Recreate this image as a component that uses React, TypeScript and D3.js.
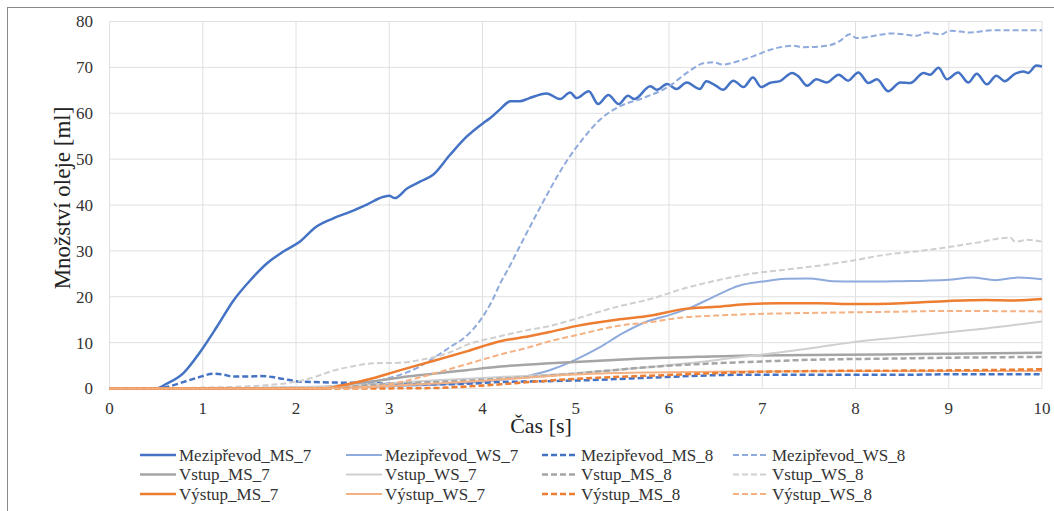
import React from "react";
import * as d3 from "d3";

type Pt = [number, number];

// ---- data (time [s], volume [ml]) ----
const mezMS7: Pt[] = [
  [0, 0], [0.5, 0], [0.61, 1.0], [0.79, 3.3], [0.97, 7.9], [1.15, 13.4], [1.33, 19.2], [1.51, 23.6],
  [1.69, 27.3], [1.86, 29.8], [2.04, 32.0], [2.22, 35.3], [2.4, 37.1], [2.58, 38.5], [2.76, 40.1],
  [2.94, 41.8], [3.0, 42.0], [3.06, 41.5], [3.19, 43.6], [3.33, 45.1], [3.47, 46.6], [3.65, 50.9],
  [3.83, 54.9], [4.01, 57.9], [4.08, 58.9], [4.19, 60.9], [4.3, 62.6], [4.4, 62.6], [4.49, 63.2],
  [4.69, 64.3], [4.83, 63.1], [4.94, 64.5], [5.01, 63.3], [5.14, 64.8], [5.24, 62.0], [5.35, 64.0],
  [5.46, 62.0], [5.56, 63.8], [5.63, 63.1], [5.8, 65.9], [5.87, 65.1], [5.98, 66.4], [6.08, 65.3],
  [6.19, 66.7], [6.33, 65.3], [6.4, 67.0], [6.51, 65.9], [6.58, 65.1], [6.69, 67.1], [6.8, 65.7],
  [6.9, 67.8], [6.99, 65.7], [7.08, 66.6], [7.19, 67.0], [7.32, 68.8], [7.39, 68.0], [7.48, 66.0],
  [7.58, 67.4], [7.69, 66.7], [7.82, 68.4], [7.92, 67.1], [8.03, 68.9], [8.14, 66.6], [8.23, 67.4],
  [8.35, 64.8], [8.48, 66.7], [8.59, 66.6], [8.73, 68.8], [8.8, 68.4], [8.89, 69.9], [8.98, 67.4],
  [9.1, 68.9], [9.21, 66.7], [9.3, 68.6], [9.41, 66.3], [9.51, 68.2], [9.6, 67.0], [9.71, 68.6],
  [9.8, 69.1], [9.85, 68.8], [9.94, 70.4], [10, 70.2],
];
const mezWS7: Pt[] = [
  [0, 0], [2.5, 0.2], [3.0, 0.5], [3.5, 0.8], [4.0, 1.5], [4.5, 2.8], [4.75, 4.2], [5.0, 6.3],
  [5.25, 8.9], [5.5, 12.0], [5.75, 14.5], [6.0, 16.0], [6.25, 17.8], [6.5, 20.2], [6.75, 22.4],
  [7.0, 23.3], [7.25, 23.9], [7.5, 24.0], [7.75, 23.4], [8.0, 23.3], [8.25, 23.3], [8.5, 23.4],
  [8.75, 23.5], [9.0, 23.7], [9.25, 24.2], [9.5, 23.6], [9.75, 24.2], [10, 23.8],
];
const mezMS8: Pt[] = [
  [0, 0], [0.5, 0], [0.61, 0.3], [0.79, 1.4], [0.95, 2.4], [1.11, 3.2], [1.2, 3.1], [1.33, 2.6],
  [1.5, 2.6], [1.61, 2.7], [1.75, 2.5], [1.86, 2.1], [2.04, 1.5], [2.2, 1.4], [2.4, 1.3], [2.76, 1.2],
  [3.12, 1.0], [3.47, 0.9], [3.8, 1.0], [4.19, 1.4], [4.7, 1.6], [5.26, 1.9], [5.6, 2.2], [5.97, 2.5],
  [6.33, 2.8], [6.8, 3.0], [7.4, 3.0], [8.0, 3.0], [8.58, 3.0], [9.0, 3.1], [9.5, 3.1], [10, 3.1],
];
const mezWS8: Pt[] = [
  [0, 0], [2.3, 0.3], [2.76, 1.2], [3.0, 2.3], [3.3, 4.5], [3.5, 7.0], [3.65, 9.0], [3.83, 11.5],
  [3.97, 14.7], [4.1, 19.0], [4.19, 22.9], [4.3, 27.0], [4.4, 31.0], [4.58, 38.0], [4.72, 43.3],
  [4.9, 49.5], [5.08, 54.5], [5.26, 58.6], [5.47, 61.5], [5.72, 63.3], [6.01, 66.0], [6.19, 68.8],
  [6.37, 70.9], [6.48, 71.1], [6.58, 70.6], [6.73, 71.3], [6.9, 72.4], [7.08, 73.8], [7.33, 74.7],
  [7.44, 74.4], [7.69, 74.7], [7.83, 75.7], [7.94, 77.2], [8.01, 76.4], [8.4, 77.4], [8.66, 76.9],
  [8.76, 77.6], [8.92, 77.2], [9.01, 78.0], [9.23, 77.6], [9.48, 78.1], [10, 78.1],
];
const vstMS7: Pt[] = [
  [0, 0], [2.0, 0], [2.3, 0.3], [2.76, 1.4], [3.12, 2.4], [3.47, 3.2], [3.83, 4.0], [4.19, 4.8],
  [4.72, 5.5], [5.3, 6.1], [5.8, 6.6], [6.3, 6.9], [6.87, 7.2], [7.5, 7.3], [8.3, 7.4], [9.0, 7.6],
  [10, 7.8],
];
const vstWS7: Pt[] = [
  [0, 0], [1.0, 0], [2.0, 0.3], [2.5, 0.6], [3.12, 1.3], [3.5, 1.8], [4.0, 2.3], [4.5, 2.8],
  [4.91, 3.2], [5.4, 4.0], [5.81, 4.7], [6.2, 5.5], [6.7, 6.7], [7.2, 7.9], [7.6, 9.0], [7.94, 10.0],
  [8.5, 11.2], [9.02, 12.3], [9.4, 13.1], [10, 14.6],
];
const vstMS8: Pt[] = [
  [0, 0], [2.3, 0], [2.76, 0.7], [3.12, 1.1], [3.47, 1.4], [4.19, 2.1], [4.72, 2.8], [5.3, 3.8],
  [5.8, 4.7], [6.3, 5.3], [6.87, 5.8], [7.6, 6.3], [8.3, 6.5], [9.0, 6.7], [10, 6.9],
];
const vstWS8: Pt[] = [
  [0, 0], [0.5, 0], [1.0, 0.2], [1.5, 0.5], [2.0, 1.5], [2.2, 2.5], [2.4, 3.9], [2.6, 4.8],
  [2.83, 5.5], [3.12, 5.6], [3.3, 6.1], [3.65, 7.9], [3.83, 9.5], [4.19, 11.4], [4.5, 12.8],
  [4.72, 13.6], [5.0, 15.2], [5.44, 17.8], [5.8, 19.5], [6.16, 21.8], [6.5, 23.5], [6.87, 25.0],
  [7.2, 25.8], [7.58, 26.7], [8.0, 28.0], [8.3, 29.1], [8.7, 30.0], [9.02, 30.9], [9.3, 31.8],
  [9.66, 32.9], [9.71, 32.0], [9.85, 32.4], [10, 32.0],
];
const vysMS7: Pt[] = [
  [0, 0], [2.3, 0], [2.4, 0.3], [2.76, 1.9], [3.12, 4.0], [3.47, 6.0], [3.83, 8.1], [4.19, 10.3],
  [4.5, 11.4], [4.72, 12.3], [5.0, 13.6], [5.44, 15.0], [5.81, 15.9], [6.15, 17.3], [6.5, 17.8],
  [6.87, 18.4], [7.2, 18.6], [7.6, 18.6], [8.0, 18.4], [8.5, 18.6], [9.0, 19.1], [9.4, 19.3],
  [9.7, 19.2], [10, 19.5],
];
const vysWS7: Pt[] = [
  [0, 0], [1.5, 0], [2.5, 0.2], [3.12, 0.7], [3.6, 1.2], [4.01, 1.7], [4.5, 2.4], [4.91, 3.0],
  [5.3, 3.3], [5.81, 3.5], [6.7, 3.7], [8.0, 3.8], [10, 3.8],
];
const vysMS8: Pt[] = [
  [0, 0], [2.6, 0], [3.47, 0.1], [3.8, 0.4], [4.19, 0.9], [4.5, 1.4], [4.91, 2.0], [5.3, 2.4],
  [5.81, 2.8], [6.3, 3.2], [6.7, 3.5], [7.5, 3.8], [8.5, 3.9], [9.3, 4.0], [10, 4.2],
];
const vysWS8: Pt[] = [
  [0, 0], [2.6, 0], [3.12, 1.4], [3.47, 3.2], [3.83, 5.3], [4.19, 7.4], [4.5, 9.0], [4.72, 10.3],
  [5.0, 11.6], [5.44, 13.6], [5.81, 14.5], [6.15, 15.5], [6.5, 15.9], [6.87, 16.2], [7.6, 16.5],
  [8.3, 16.7], [9.0, 16.9], [10, 16.8],
];

const seriesNames = [
  "Mezipřevod_MS_7", "Mezipřevod_WS_7", "Mezipřevod_MS_8", "Mezipřevod_WS_8",
  "Vstup_MS_7", "Vstup_WS_7", "Vstup_MS_8", "Vstup_WS_8",
  "Výstup_MS_7", "Výstup_WS_7", "Výstup_MS_8", "Výstup_WS_8",
];
const seriesData: Pt[][] = [
  mezMS7, mezWS7, mezMS8, mezWS8, vstMS7, vstWS7, vstMS8, vstWS8, vysMS7, vysWS7, vysMS8, vysWS8,
];
const xTicks = [0, 1, 2, 3, 4, 5, 6, 7, 8, 9, 10];
const yTicks = [0, 10, 20, 30, 40, 50, 60, 70, 80];
const xTitle = "Čas [s]";
const yTitle = "Množství oleje [ml]";

// ---- styles ----
const styles = [
  { c: "#4472C4", w: 2.5, d: "" },
  { c: "#8FAADC", w: 2, d: "" },
  { c: "#4472C4", w: 2.5, d: "6,3" },
  { c: "#8FAADC", w: 2, d: "6,3" },
  { c: "#A5A5A5", w: 2.5, d: "" },
  { c: "#CFCFCF", w: 2, d: "" },
  { c: "#A5A5A5", w: 2.5, d: "6,3" },
  { c: "#CFCFCF", w: 2, d: "6,3" },
  { c: "#ED7D31", w: 2.5, d: "" },
  { c: "#F4B183", w: 2, d: "" },
  { c: "#ED7D31", w: 2.5, d: "6,3" },
  { c: "#F4B183", w: 2, d: "6,3" },
];

const FONT = "Liberation Serif";

export default function App() {
  const W = 1054, H = 511;
  const x = d3.scaleLinear().domain([0, 10]).range([109.5, 1042]);
  const y = d3.scaleLinear().domain([0, 80]).range([388.5, 21.5]);
  const line = d3.line<Pt>().x((d) => x(d[0])).y((d) => y(d[1])).curve(d3.curveMonotoneX);

  const legCols = [140, 346, 542, 733];
  const legRows = [455, 474.5, 494];

  return (
    <svg width={W} height={H} style={{ position: "absolute", left: 0, top: 0, background: "#fff" }}>
      <rect x={0} y={0} width={W} height={H} fill="#fff" />
      <line x1={7} y1={7.5} x2={W} y2={7.5} stroke="#8a8a8a" strokeWidth={1} />
      <line x1={7.5} y1={7} x2={7.5} y2={H} stroke="#8a8a8a" strokeWidth={1} />
      {yTicks.map((v) => (
        <line key={"gy" + v} x1={x(0)} x2={x(10)} y1={y(v)} y2={y(v)} stroke="#E0E0E0" strokeWidth={1} />
      ))}
      {xTicks.map((t) => (
        <line key={"gx" + t} x1={x(t)} x2={x(t)} y1={y(0)} y2={y(80)} stroke="#E0E0E0" strokeWidth={1} />
      ))}
      {yTicks.map((v) => (
        <text key={"ty" + v} x={93} y={y(v)} dy="0.35em" textAnchor="end" fontFamily={FONT} fontSize={17} fill="#333">
          {v}
        </text>
      ))}
      {xTicks.map((t) => (
        <text key={"tx" + t} x={x(t)} y={408} dy="0.35em" textAnchor="middle" fontFamily={FONT} fontSize={17} fill="#333">
          {t}
        </text>
      ))}
      <text x={541} y={433} textAnchor="middle" fontFamily={FONT} fontSize={22} fill="#222">
        {xTitle}
      </text>
      <text transform={`translate(70,198) rotate(-90)`} textAnchor="middle" fontFamily={FONT} fontSize={23} fill="#222">
        {yTitle}
      </text>
      {seriesData.map((d, i) => (
        <path key={"s" + i} d={line(d) || ""} fill="none" stroke={styles[i].c} strokeWidth={styles[i].w}
          strokeDasharray={styles[i].d} strokeLinejoin="round" />
      ))}
      {seriesNames.map((n, i) => {
        const cx = legCols[i % 4];
        const cy = legRows[Math.floor(i / 4)];
        return (
          <g key={"l" + i}>
            <line x1={cx} x2={cx + 36} y1={cy} y2={cy} stroke={styles[i].c} strokeWidth={styles[i].w}
              strokeDasharray={styles[i].d} />
            <text x={cx + 39} y={cy} dy="0.33em" fontFamily={FONT} fontSize={17} fill="#333">
              {n}
            </text>
          </g>
        );
      })}
    </svg>
  );
}
